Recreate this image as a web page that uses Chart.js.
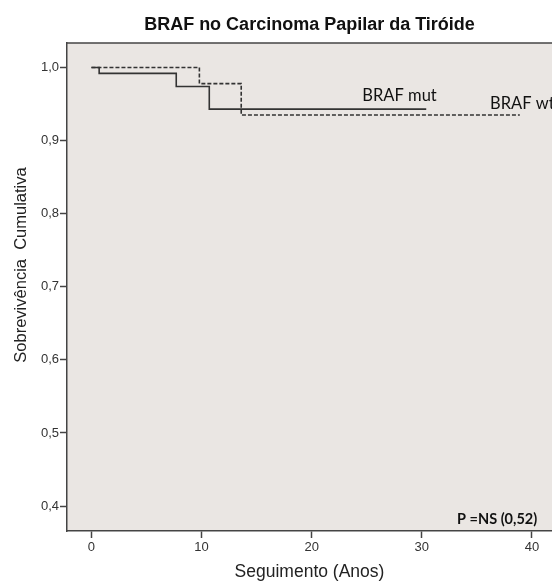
<!DOCTYPE html>
<html>
<head>
<meta charset="utf-8">
<script src="https://cdn.jsdelivr.net/npm/chart.js@4/dist/chart.umd.min.js"></script>
<style>
  html, body { margin: 0; padding: 0; background: #fff; overflow: hidden; }
</style>
</head>
<body>
<canvas id="chartKM" width="552" height="585"></canvas>
<script>
const mutTempo = [0, 0.7, 7.7, 10.7, 30.4];
const mutSobrev = [1.0, 0.992, 0.974, 0.943, 0.943];
const wtTempo = [0, 9.8, 13.6, 38.9];
const wtSobrev = [1.0, 0.978, 0.935, 0.935];

const xTicks = [0, 10, 20, 30, 40];
const yTicks = [0.4, 0.5, 0.6, 0.7, 0.8, 0.9, 1.0];

const rotulos = [
    { texto: "BRAF mut", x: 24.6, y: 0.962, font: "16.5px Lato", align: "left" },
    { texto: "BRAF wt", x: 36.2, y: 0.951, font: "16.5px Lato", align: "left" },
    { texto: "P =NS (0,52)", x: 33.2, y: 0.382, font: "bold 14.5px Lato", align: "left" }
];

function pontos(tempo, sobrev) {
    return tempo.map((t, i) => ({ x: t, y: sobrev[i] }));
}

// fundo cinza e moldura da area do grafico
const fundoPlugin = {
    id: "fundo",
    beforeDraw(chart) {
        const { ctx, chartArea: a } = chart;
        ctx.save();
        ctx.fillStyle = "#eae6e3";
        ctx.fillRect(a.left, a.top, a.right - a.left, a.bottom - a.top);
        ctx.restore();
    },
    afterDraw(chart) {
        const { ctx, chartArea: a, scales } = chart;
        ctx.save();
        ctx.strokeStyle = "#444";
        ctx.lineWidth = 1.5;
        ctx.beginPath();
        ctx.moveTo(a.left, a.top);
        ctx.lineTo(a.right, a.top);
        ctx.stroke();

        ctx.fillStyle = "#111";
        ctx.textBaseline = "middle";
        rotulos.forEach(r => {
            ctx.font = r.font;
            ctx.textAlign = r.align;
            ctx.fillText(r.texto, scales.x.getPixelForValue(r.x), scales.y.getPixelForValue(r.y));
        });

        // titulo do eixo y
        ctx.translate(21, 265);
        ctx.rotate(-Math.PI / 2);
        ctx.font = "16.5px 'Liberation Sans'";
        ctx.textAlign = "center";
        ctx.fillStyle = "#222";
        ctx.fillText("Sobrevivência  Cumulativa", 0, 0);
        ctx.restore();
    }
};

new Chart(document.getElementById("chartKM"), {
    type: "line",
    data: {
        datasets: [
            {
                label: "BRAF mut",
                data: pontos(mutTempo, mutSobrev),
                stepped: "before",
                borderColor: "#333",
                borderWidth: 1.6,
                pointRadius: 0,
                fill: false
            },
            {
                label: "BRAF wt",
                data: pontos(wtTempo, wtSobrev),
                stepped: "before",
                borderColor: "#333",
                borderWidth: 1.6,
                borderDash: [4, 2],
                pointRadius: 0,
                fill: false
            }
        ]
    },
    options: {
        responsive: false,
        animation: false,
        devicePixelRatio: 1,
        layout: { padding: { left: 0, right: 0, top: 0, bottom: 0 } },
        plugins: {
            legend: { display: false },
            tooltip: { enabled: false },
            title: {
                display: true,
                fullSize: false,
                text: "BRAF no Carcinoma Papilar da Tiróide",
                color: "#111",
                font: { family: "'Liberation Sans'", size: 18, weight: "bold" },
                padding: { top: 14, bottom: 7.5 }
            }
        },
        scales: {
            x: {
                type: "linear",
                min: -2.22,
                max: 41.82,
                afterFit(scale) { scale.height = 54; },
                afterBuildTicks(scale) { scale.ticks = xTicks.map(v => ({ value: v })); },
                grid: { drawOnChartArea: false, drawTicks: true, tickLength: 7, tickWidth: 1.5, tickColor: "#444" },
                border: { display: true, color: "#444", width: 1.5 },
                ticks: {
                    color: "#333",
                    padding: 2,
                    maxRotation: 0,
                    font: { family: "'Liberation Sans'", size: 13 }
                },
                title: {
                    display: true,
                    text: "Seguimento (Anos)",
                    color: "#222",
                    font: { family: "'Liberation Sans'", size: 17.5 },
                    padding: { top: 0, bottom: 2 }
                }
            },
            y: {
                min: 0.3658,
                max: 1.0334,
                afterFit(scale) { scale.width = 67; },
                afterBuildTicks(scale) { scale.ticks = yTicks.map(v => ({ value: v })); },
                grid: { drawOnChartArea: false, drawTicks: true, tickLength: 7, tickWidth: 1.5, tickColor: "#444" },
                border: { display: true, color: "#444", width: 1.5 },
                ticks: {
                    color: "#333",
                    padding: 1,
                    font: { family: "'Liberation Sans'", size: 13 },
                    callback: v => v.toFixed(1).replace(".", ",")
                }
            }
        }
    },
    plugins: [fundoPlugin]
});
</script>
</body>
</html>
